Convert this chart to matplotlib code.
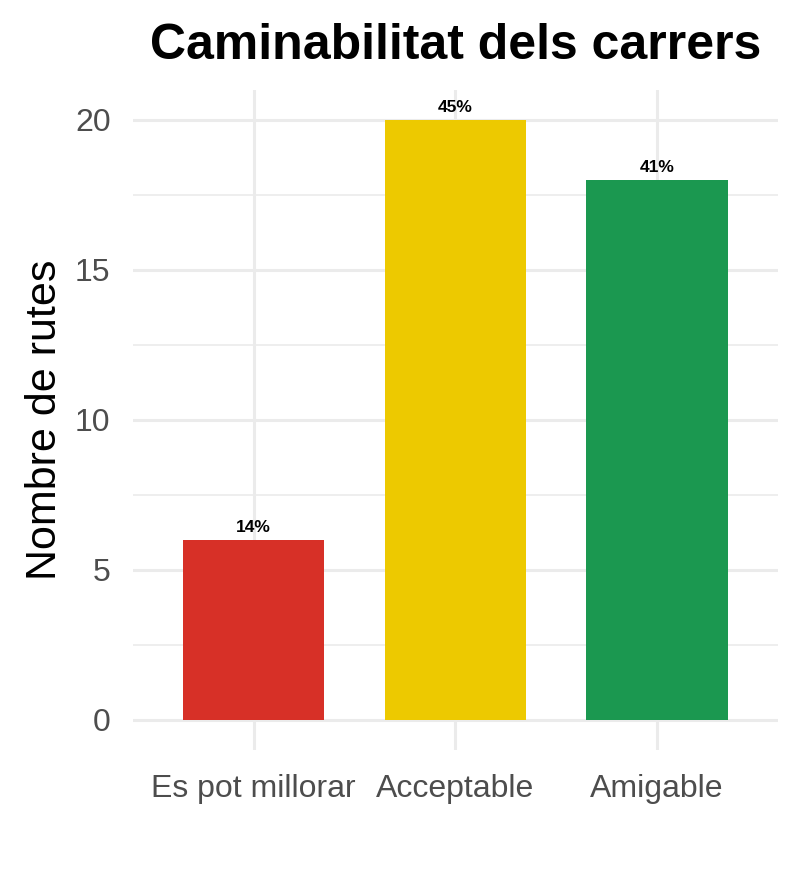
import numpy as np
import matplotlib.pyplot as plt

categories = ["Es pot millorar", "Acceptable", "Amigable"]
counts = [6, 20, 18]
pct_labels = ["14%", "45%", "41%"]
bar_colors = ["#D73027", "#EDC900", "#1B9850"]

plt.rcParams['font.family'] = ['Liberation Sans', 'DejaVu Sans']

fig = plt.figure(figsize=(8, 8.75), dpi=100)
ax = fig.add_axes([0.166, 0.1429, 0.8065, 0.7543])

x = np.arange(1, len(categories) + 1)
ax.bar(x, counts, width=0.7, color=bar_colors, zorder=3)
for xi, c, lab in zip(x, counts, pct_labels):
    ax.text(xi, c + 0.15, lab, ha='center', va='bottom', fontsize=12.5,
            fontweight='bold', color='black', zorder=4)

ax.set_xlim(0.4, 3.6)
ax.set_ylim(-1, 21)
ax.set_xticks(x)
ax.set_xticklabels(categories)
ax.set_yticks([0, 5, 10, 15, 20])
ax.set_yticks([2.5, 7.5, 12.5, 17.5], minor=True)

# theme_minimal look
for s in ax.spines.values():
    s.set_visible(False)
ax.grid(True, which='major', color='#EBEBEB', linewidth=2.2, zorder=0)
ax.grid(True, which='minor', axis='y', color='#EBEBEB', linewidth=1.2, zorder=0)
ax.tick_params(axis='both', which='both', length=0, labelsize=23, labelcolor='#4D4D4D')
ax.tick_params(axis='x', pad=17)
ax.tick_params(axis='y', pad=16)

ax.set_ylabel("Nombre de rutes", fontsize=31, color='black', labelpad=7)
ax.set_title("Caminabilitat dels carrers", fontsize=36, fontweight='bold', pad=22)

fig.savefig("out.png", dpi=100, facecolor='white')
